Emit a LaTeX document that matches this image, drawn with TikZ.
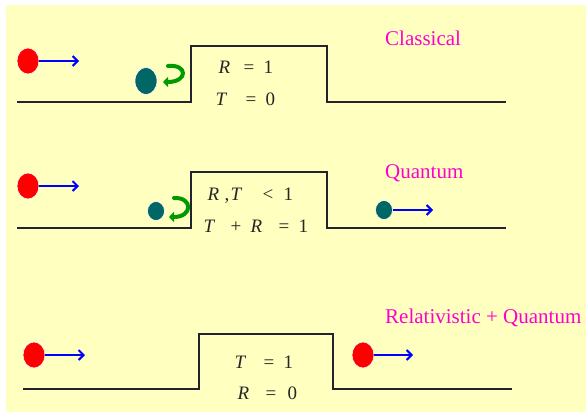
\documentclass[tikz,border=0pt]{standalone}
\usepackage{fontspec}
\setmainfont{Liberation Serif}
\newfontfamily\timesfont{Liberation Serif}
\usetikzlibrary{arrows.meta,shapes.geometric}
\definecolor{bgyellow}{HTML}{FFFFC0}
\definecolor{stepcol}{HTML}{222230}
\definecolor{tealball}{HTML}{006666}
\definecolor{hookgreen}{HTML}{009900}
\definecolor{labelpink}{HTML}{FF00CC}
\newcommand{\at}[2]{\rlap{\hspace{#1pt}#2}}
\tikzset{
  stepline/.style={draw=stepcol,line width=2.6pt,line join=miter},
  redball/.style={ellipse,fill=red,draw=white,line width=0.6pt,minimum width=22pt,minimum height=26pt,inner sep=0pt},
  tealbig/.style={ellipse,fill=tealball,draw=white,line width=0.6pt,minimum width=22pt,minimum height=27pt,inner sep=0pt},
  tealsmall/.style={ellipse,fill=tealball,draw=white,line width=0.6pt,minimum width=17pt,minimum height=19pt,inner sep=0pt},
  movearrow/.style={draw=blue,line width=2pt,-{Straight Barb[length=5pt,width=10pt,line width=2pt]}},
  hook/.style={draw=hookgreen,line width=4pt,line cap=round,-{Triangle[length=5pt,width=10pt]}},
  eqtext/.style={font=\timesfont\fontsize{19}{21}\selectfont,anchor=base west,inner sep=0pt,text=black!85},
  pinklabel/.style={text=labelpink,font=\timesfont\fontsize{21}{24}\selectfont,anchor=west,inner sep=0pt}
}
\begin{document}
\begin{tikzpicture}[x=1pt,y=-1pt]
\useasboundingbox (0,0) rectangle (586,412);
\clip (0,0) rectangle (586,412);
\fill[bgyellow] (6,5) rectangle (590,416);

% ---------- Panel 1: Classical ----------
\draw[stepline] (17,102) -- (191,102) -- (191,46) -- (327,46) -- (327,102) -- (506,102);
\node[redball] (r1) at (28,61) {};
\coordinate (a1) at (79,61);
\draw[movearrow] (r1.east) -- (a1);
\node[tealbig] (t1) at (146,81) {};
\coordinate (h1s) at (168,66);
\coordinate (h1e) at (163,82);
\draw[hook] (h1s) .. controls (188,64) and (188,82) .. (h1e);
\node[eqtext] (e1a) at (218,74) {\at{0}{\textit{R}}\at{25}{=}\at{45}{1}};
\node[eqtext] (e1b) at (215,105) {\at{0}{\textit{T}}\at{30}{=}\at{50}{0}};
\node[pinklabel] (l1) at (385,38) {Classical};

% ---------- Panel 2: Quantum ----------
\draw[stepline] (17,228) -- (191,228) -- (191,172) -- (327,172) -- (327,228) -- (506,228);
\node[redball] (r2) at (28,186) {};
\coordinate (a2) at (79,186);
\draw[movearrow] (r2.east) -- (a2);
\node[tealsmall] (t2) at (156,211) {};
\coordinate (h2s) at (174,198);
\coordinate (h2e) at (169,217);
\draw[hook] (h2s) .. controls (193,197) and (193,217) .. (h2e);
\node[eqtext] (e2a) at (207,200) {\at{0}{\textit{R}}\at{17}{,}\at{23}{\textit{T}}\at{55}{<}\at{76}{1}};
\node[eqtext] (e2b) at (203,232) {\at{0}{\textit{T}}\at{27}{+}\at{47}{\textit{R}}\at{75}{=}\at{95}{1}};
\node[pinklabel] (l2) at (385,173) {Quantum};
\node[tealsmall] (t3) at (384,210) {};
\coordinate (a3) at (433,210);
\draw[movearrow] (t3.east) -- (a3);

% ---------- Panel 3: Relativistic + Quantum ----------
\draw[stepline] (23,389) -- (199,389) -- (199,334) -- (333,334) -- (333,389) -- (512,389);
\node[redball] (r4) at (34,355) {};
\coordinate (a4) at (85,355);
\draw[movearrow] (r4.east) -- (a4);
\node[redball] (r5) at (363,355) {};
\coordinate (a5) at (413,355);
\draw[movearrow] (r5.east) -- (a5);
\node[eqtext] (e3a) at (234,368) {\at{0}{\textit{T}}\at{29}{=}\at{49}{1}};
\node[eqtext] (e3b) at (237,399) {\at{0}{\textit{R}}\at{28}{=}\at{50}{0}};
\node[pinklabel] (l3) at (385,318) {Relativistic + Quantum};
\end{tikzpicture}
\end{document}
